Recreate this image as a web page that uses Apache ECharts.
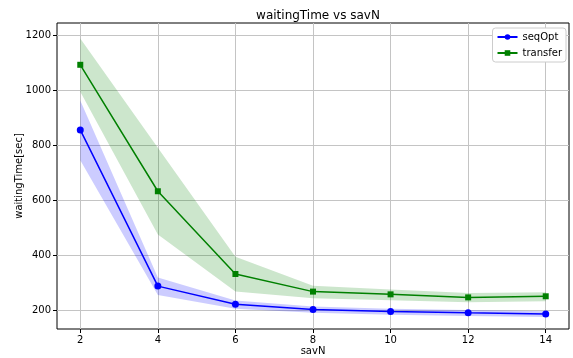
<!DOCTYPE html>
<html><head><meta charset="utf-8">
<script src="https://cdn.jsdelivr.net/npm/echarts@6/dist/echarts.min.js"></script>
<style>html,body{margin:0;padding:0;background:#fff}#c{width:573px;height:358px}</style>
</head><body><div id="c"></div>
<script>
const savN = [2, 4, 6, 8, 10, 12, 14];
const seqOpt = [855, 287, 221, 202, 195, 190, 186];
const seqOptLow = [745, 255, 205, 190, 183, 178, 175];
const seqOptHigh = [962, 318, 235, 213, 205, 200, 196];
const transfer = [1092, 632, 331, 267, 257, 246, 250];
const transferLow = [994, 475, 267, 243, 236, 228, 232];
const transferHigh = [1188, 790, 394, 288, 275, 262, 265];
const xTicks = [2, 4, 6, 8, 10, 12, 14];
const yTicks = [200, 400, 600, 800, 1000, 1200];

const chart = echarts.init(document.getElementById('c'));
const font = 'DejaVu Sans';
function band(low, high, color) {
  return {
    type: 'custom', silent: true, z: 1,
    data: [0],
    renderItem: function (params, api) {
      const pts = [];
      for (let i = 0; i < savN.length; i++) pts.push(api.coord([savN[i], high[i]]));
      for (let i = savN.length - 1; i >= 0; i--) pts.push(api.coord([savN[i], low[i]]));
      return { type: 'polygon', shape: { points: pts }, style: { fill: color } };
    }
  };
}
chart.setOption({
  animation: false,
  title: { text: 'waitingTime vs savN', left: 313, top: 5, textAlign: 'center',
    textStyle: { fontFamily: font, fontSize: 12, fontWeight: 'normal', color: '#000' } },
  grid: { left: 57, right: 4, top: 23, bottom: 29, containLabel: false, outerBoundsMode: 'none',
    show: true, borderColor: '#000', borderWidth: 1, backgroundColor: 'transparent' },
  legend: {
    data: ['seqOpt', 'transfer'], orient: 'vertical', right: 7, top: 28,
    itemWidth: 20, itemHeight: 7, itemGap: 6,
    backgroundColor: '#fff', borderColor: '#ccc', borderWidth: 1, borderRadius: 3, padding: [4, 4, 4, 4],
    textStyle: { fontFamily: font, fontSize: 10, color: '#000' }
  },
  xAxis: {
    type: 'value', min: 1.4, max: 14.6,
    name: 'savN', nameLocation: 'middle', nameGap: 17, nameMoveOverlap: false,
    nameTextStyle: { fontFamily: font, fontSize: 10, color: '#000' },
    axisLine: { show: false },
    axisTick: { show: true, customValues: xTicks, length: 4, lineStyle: { color: '#000' } },
    axisLabel: { customValues: xTicks, fontFamily: font, fontSize: 10, color: '#000', margin: 6,
      formatter: v => String(v) },
    splitLine: { show: true, lineStyle: { color: '#c4c4c4', width: 1 } }
  },
  yAxis: {
    type: 'value', min: 131, max: 1244,
    name: 'waitingTime[sec]', nameLocation: 'middle', nameGap: 33, nameRotate: 90, nameMoveOverlap: false,
    nameTextStyle: { fontFamily: font, fontSize: 10, color: '#000' },
    axisLine: { show: false },
    axisTick: { show: true, customValues: yTicks, length: 4, lineStyle: { color: '#000' } },
    axisLabel: { customValues: yTicks, fontFamily: font, fontSize: 10, color: '#000', margin: 6,
      formatter: v => String(v) },
    splitLine: { show: true, lineStyle: { color: '#c4c4c4', width: 1 } }
  },
  series: [
    band(seqOptLow, seqOptHigh, 'rgba(0,0,255,0.2)'),
    band(transferLow, transferHigh, 'rgba(0,128,0,0.2)'),
    { name: 'seqOpt', type: 'line', z: 3, data: savN.map((x, i) => [x, seqOpt[i]]),
      symbol: 'circle', symbolSize: 7, color: '#0000ff',
      lineStyle: { color: '#0000ff', width: 1.5 }, itemStyle: { color: '#0000ff' } },
    { name: 'transfer', type: 'line', z: 3, data: savN.map((x, i) => [x, transfer[i]]),
      symbol: 'rect', symbolSize: 6, color: '#008000',
      lineStyle: { color: '#008000', width: 1.5 }, itemStyle: { color: '#008000' } }
  ]
});
</script></body></html>
